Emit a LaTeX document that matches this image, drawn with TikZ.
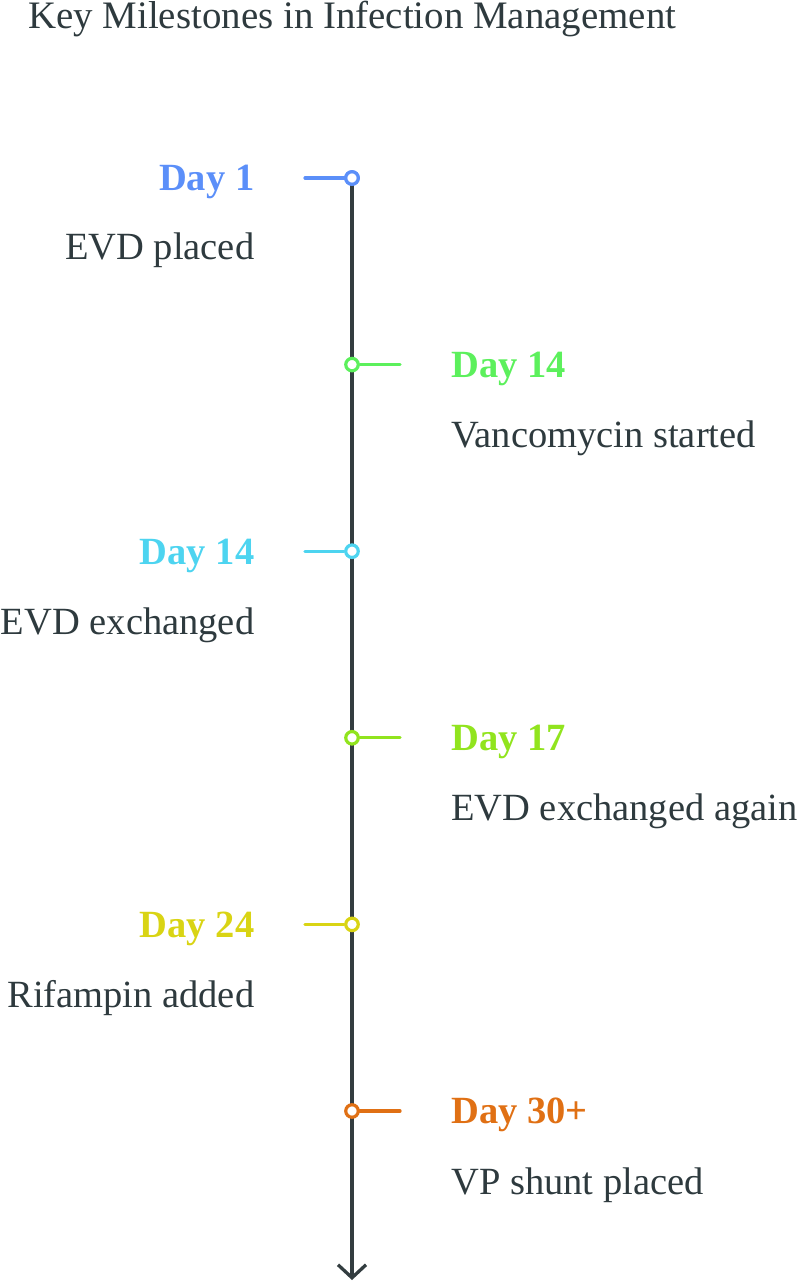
\documentclass[tikz,border=0pt]{standalone}
\usepackage{fontspec}
\setmainfont{Liberation Serif}
\usetikzlibrary{arrows.meta}
\definecolor{ink}{RGB}{46,58,62}
\definecolor{axisc}{RGB}{51,61,64}
\definecolor{cA}{RGB}{91,143,249}
\definecolor{cB}{RGB}{92,240,92}
\definecolor{cC}{RGB}{77,212,240}
\definecolor{cD}{RGB}{145,228,30}
\definecolor{cE}{RGB}{217,212,20}
\definecolor{cF}{RGB}{224,112,20}
\begin{document}
\begin{tikzpicture}[x=1pt,y=-1pt,
  titletxt/.style={font=\fontsize{38.9}{46}\selectfont, text=ink, inner sep=0pt},
  txt/.style={font=\fontsize{38.5}{46}\selectfont, text=ink, inner sep=0pt},
  daylbl/.style={font=\fontsize{38.5}{46}\selectfont\bfseries, text=#1, inner sep=0pt},
  dot/.style={circle, draw=#1, fill=white, line width=3.2pt, minimum size=12.5pt, inner sep=0pt},
  tickline/.style={draw=#1, line width=3.2pt, line cap=round}]
\useasboundingbox (0,0) rectangle (800,1284);

\node[titletxt, anchor=base west] (title) at (28,28.5) {Key Milestones in Infection Management};

% axis
\coordinate (axtop) at (352,178);
\coordinate (axbot) at (352,1280);
\draw[draw=axisc, line width=3.3pt, -{Straight Barb[length=13pt,width=28pt]}] (axtop) -- (axbot);

% event 1 (left)
\coordinate (t1) at (305,178);
\draw[tickline=cA] (t1) -- (axtop);
\node[dot=cA] (e1) at (352,178) {};
\node[daylbl=cA, anchor=base east] (d1) at (254.5,190.8) {Day 1};
\node[txt, anchor=base east] (x1) at (254.5,259) {EVD placed};

% event 2 (right)
\coordinate (t2) at (400,364.6);
\node[dot=cB] (e2) at (352,364.6) {};
\draw[tickline=cB] (t2) -- (e2);
\node[daylbl=cB, anchor=base west] (d2) at (451,377.4) {Day 14};
\node[txt, anchor=base west] (x2) at (451,447.6) {Vancomycin started};

% event 3 (left)
\coordinate (t3) at (305,551.2);
\node[dot=cC] (e3) at (352,551.2) {};
\draw[tickline=cC] (t3) -- (e3);
\node[daylbl=cC, anchor=base east] (d3) at (254.5,564) {Day 14};
\node[txt, anchor=base east] (x3) at (254.5,634.2) {EVD exchanged};

% event 4 (right)
\coordinate (t4) at (400,737.8);
\node[dot=cD] (e4) at (352,737.8) {};
\draw[tickline=cD] (t4) -- (e4);
\node[daylbl=cD, anchor=base west] (d4) at (451,750.6) {Day 17};
\node[txt, anchor=base west] (x4) at (451,820.8) {EVD exchanged again};

% event 5 (left)
\coordinate (t5) at (305,924.4);
\node[dot=cE] (e5) at (352,924.4) {};
\draw[tickline=cE] (t5) -- (e5);
\node[daylbl=cE, anchor=base east] (d5) at (254.5,937.2) {Day 24};
\node[txt, anchor=base east] (x5) at (254.5,1007.4) {Rifampin added};

% event 6 (right)
\coordinate (t6) at (400,1111);
\node[dot=cF] (e6) at (352,1111) {};
\draw[tickline=cF] (t6) -- (e6);
\node[daylbl=cF, anchor=base west] (d6) at (451,1123.8) {Day 30+};
\node[txt, anchor=base west] (x6) at (451,1194) {VP shunt placed};

% redraw top dot over tick
\node[dot=cA] at (e1) {};
\end{tikzpicture}
\end{document}
